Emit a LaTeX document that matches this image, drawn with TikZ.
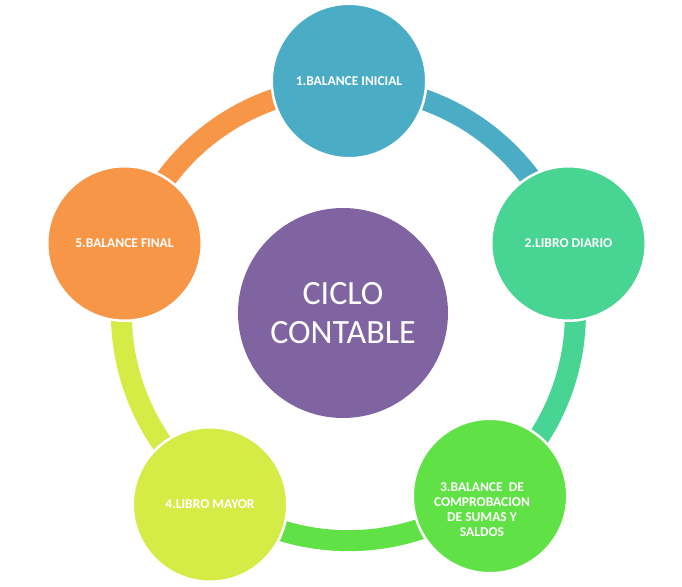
\documentclass[tikz,border=0pt]{standalone}
\usepackage{fontspec}
\setmainfont{Carlito}
\usetikzlibrary{calc}
\definecolor{stepA}{HTML}{4BACC6}
\definecolor{stepB}{HTML}{48D492}
\definecolor{stepC}{HTML}{60E146}
\definecolor{stepD}{HTML}{D5EC46}
\definecolor{stepE}{HTML}{F79646}
\definecolor{hub}{HTML}{8064A2}
\tikzset{ n/.style = { circle % step circle
        , draw = white
        , line width = 2.5pt
        , minimum size = 154.5pt
        , inner sep = 0pt
        , text = white
        , align = center
        , font = \bfseries\fontsize{13.5}{15}\selectfont
        }
        , t/.style = { rectangle % step text
        , inner sep = 0pt
        , text = white
        , align = center
        , font = \bfseries\fontsize{13.5}{15}\selectfont
        }
        , c/.style = { circle % hub
        , fill = hub
        , minimum size = 210pt
        , inner sep = 0pt
        , text = white
        , align = center
        , font = \fontsize{34}{39}\selectfont
        }
        , a/.style = { line width = 21pt } % ring arc
        }

\begin{document}
\begin{tikzpicture}[x=1pt, y=1pt]
        \useasboundingbox (0,0) rectangle (682,586);
        \coordinate (ring) at (348.4,272.3);
        \coordinate (r1) at ($(ring)+(90:227)$);
        \coordinate (r2) at ($(ring)+(17.7:227)$);
        \coordinate (r3) at ($(ring)+(-52.2:227)$);
        \coordinate (r4) at ($(ring)+(-126:227)$);
        \coordinate (r5) at ($(ring)+(162.6:227)$);
        \draw [a, draw=stepA] (r1) arc[start angle=90, end angle=17.7, radius=227];
        \draw [a, draw=stepB] (r2) arc[start angle=17.7, end angle=-52.2, radius=227];
        \draw [a, draw=stepC] (r3) arc[start angle=-52.2, end angle=-126, radius=227];
        \draw [a, draw=stepD] (r4) arc[start angle=-126, end angle=-197.4, radius=227];
        \draw [a, draw=stepE] (r5) arc[start angle=162.6, end angle=90, radius=227];

        \node [n, fill=stepA] (n1) at (349,505) {1.BALANCE INICIAL};
        \node [n, fill=stepB] (n2) at (568.5,342.5) {2.LIBRO DIARIO};
        \node [n, fill=stepC] (n3) at (490,90) {};
        \node [t] (t3) at (482,76.5) {3.BALANCE\ \ DE\\COMPROBACION\\DE SUMAS Y\\SALDOS};
        \node [n, fill=stepD] (n4) at (210,81.5) {4.LIBRO MAYOR};
        \node [n, fill=stepE] (n5) at (124.5,342.5) {5.BALANCE FINAL};
        \node [c] (nc) at (343,273) {CICLO\\CONTABLE};
\end{tikzpicture}
\end{document}
